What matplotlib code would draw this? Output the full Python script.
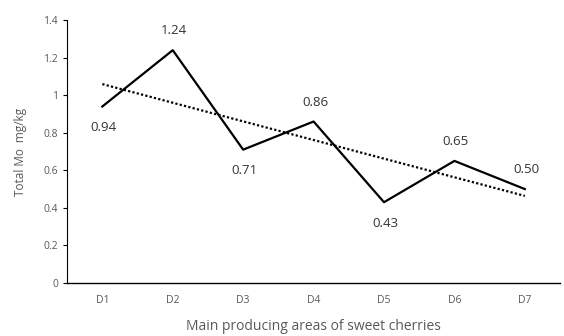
import matplotlib.pyplot as plt
import numpy as np

# Total Mo content per producing area
areas = ["D1", "D2", "D3", "D4", "D5", "D6", "D7"]
total_mo = [0.94, 1.24, 0.71, 0.86, 0.43, 0.65, 0.50]
label_above = [False, True, False, True, False, True, True]

plt.rcParams["font.family"] = ["Open Sans", "DejaVu Sans"]

x = np.arange(len(areas))
fig = plt.figure(figsize=(5.64, 3.36), dpi=100)
ax = fig.add_axes([0.119, 0.158, 0.874, 0.782])

ax.plot(x, total_mo, color="black", linewidth=1.6)

# linear trend line
slope, intercept = np.polyfit(x, total_mo, 1)
ax.plot(x, slope * x + intercept, color="black", linestyle=(0, (1, 1)), linewidth=1.6)

for xi, v, up in zip(x, total_mo, label_above):
    off = 14 if up else -15
    ax.annotate(f"{v:.2f}", (xi, v), xytext=(1, off),
                textcoords="offset points", ha="center", va="center",
                fontsize=9.5, color="#333333")

ax.set_xlim(-0.5, 6.5)
ax.set_ylim(0, 1.4)
ticks = np.round(np.arange(0, 1.41, 0.2), 1)
ax.set_yticks(ticks)
ax.set_yticklabels([f"{t:g}" for t in ticks])
ax.set_xticks(x)
ax.set_xticklabels(areas)
ax.tick_params(axis="x", length=0, pad=9, labelsize=7.5, labelcolor="#595959")
ax.tick_params(axis="y", length=3, labelsize=7.5, labelcolor="#595959")
for s in ["top", "right"]:
    ax.spines[s].set_visible(False)
ax.spines["left"].set_linewidth(0.8)
ax.spines["bottom"].set_linewidth(1.0)

ax.set_ylabel("Total Mo  mg/kg", fontsize=8.5, color="#595959", labelpad=12)
ax.set_xlabel("Main producing areas of sweet cherries", fontsize=10, color="#595959", labelpad=9)

fig.savefig("out.png", dpi=100)
